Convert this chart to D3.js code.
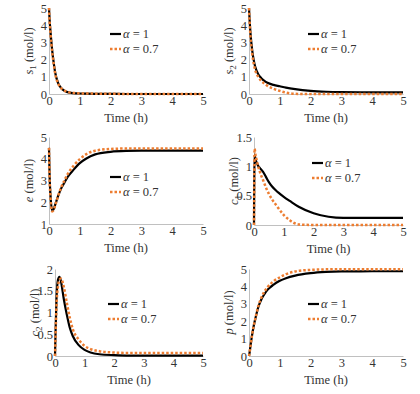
<!DOCTYPE html>
<html>
<head>
<meta charset="utf-8">
<script src="https://cdn.jsdelivr.net/npm/d3@7"></script>
<style>
  body { margin: 0; background: #fff; }
</style>
</head>
<body>
<svg id="chart" width="420" height="394"></svg>
<script>
// time points (h)
var time = [0, 0.02, 0.05, 0.1, 0.15, 0.2, 0.3, 0.4, 0.5, 0.6, 0.8, 1, 1.2, 1.5, 2, 2.5, 3, 4, 5];
var xTicks = [0, 1, 2, 3, 4, 5];
var legendLabels = ['1', '0.7'];

// s1
var s1A1  = [5, 4.3, 3.6, 2.6, 1.85, 1.25, 0.62, 0.33, 0.19, 0.11, 0.05, 0.03, 0.02, 0.01, 0.005, 0, 0, 0, 0];
var s1A07 = [5, 4.2, 3.5, 2.5, 1.8, 1.2, 0.6, 0.33, 0.2, 0.12, 0.06, 0.04, 0.03, 0.02, 0.01, 0.005, 0, 0, 0];
// s2
var s2A1  = [5, 4.3, 3.5, 2.6, 2.0, 1.6, 1.15, 0.92, 0.76, 0.65, 0.53, 0.45, 0.37, 0.28, 0.18, 0.13, 0.11, 0.1, 0.1];
var s2A07 = [5, 4.2, 3.3, 2.4, 1.8, 1.4, 1.0, 0.76, 0.6, 0.47, 0.3, 0.18, 0.08, 0.01, 0, 0, 0, 0, 0];
// e
var eA1   = [4.5, 3.2, 2.3, 1.62, 1.68, 1.88, 2.3, 2.65, 2.9, 3.15, 3.5, 3.8, 4.0, 4.2, 4.32, 4.36, 4.37, 4.37, 4.37];
var eA07  = [4.5, 3.1, 2.2, 1.58, 1.64, 1.85, 2.3, 2.7, 3.0, 3.28, 3.68, 3.98, 4.2, 4.37, 4.45, 4.47, 4.47, 4.47, 4.47];
// c1
var c1A1  = [0, 1.2, 1.12, 1.05, 1.0, 0.97, 0.91, 0.82, 0.73, 0.66, 0.56, 0.48, 0.41, 0.31, 0.2, 0.14, 0.12, 0.12, 0.12];
var c1A07 = [0, 1.3, 1.2, 1.08, 0.98, 0.9, 0.77, 0.64, 0.53, 0.44, 0.3, 0.17, 0.08, 0.01, 0, 0, 0, 0, 0];
// c2
var c2A1  = [0, 0.6, 1.3, 1.75, 1.82, 1.72, 1.3, 0.95, 0.65, 0.46, 0.25, 0.14, 0.08, 0.04, 0.02, 0.01, 0.01, 0.01, 0.01];
var c2A07 = [0, 0.5, 1.15, 1.6, 1.75, 1.78, 1.58, 1.22, 0.88, 0.62, 0.38, 0.23, 0.16, 0.11, 0.08, 0.07, 0.07, 0.07, 0.07];
// p
var pA1   = [0, 0.2, 0.6, 1.2, 1.7, 2.1, 2.8, 3.25, 3.55, 3.8, 4.1, 4.32, 4.47, 4.62, 4.76, 4.83, 4.86, 4.87, 4.87];
var pA07  = [0, 0.2, 0.6, 1.2, 1.7, 2.1, 2.85, 3.35, 3.7, 3.95, 4.3, 4.52, 4.7, 4.86, 4.95, 4.98, 4.99, 4.99, 4.99];

var panels = [
  {sym: 's', sub: '1', y1: s1A1, y07: s1A07, domain: [0, 5], ticks: [0, 1, 2, 3, 4, 5],
   box: {l: 49, r: 203, t: 8, b: 94}, leg: {x: 110, y: 34}},
  {sym: 's', sub: '2', y1: s2A1, y07: s2A07, domain: [0, 5], ticks: [0, 1, 2, 3, 4, 5],
   box: {l: 249, r: 403, t: 8, b: 94}, leg: {x: 308, y: 34}},
  {sym: 'e', sub: '', y1: eA1, y07: eA07, domain: [1, 5], ticks: [1, 2, 3, 4, 5],
   box: {l: 49, r: 203, t: 137, b: 224}, leg: {x: 110, y: 177}},
  {sym: 'c', sub: '1', y1: c1A1, y07: c1A07, domain: [0, 1.5], ticks: [0, 0.5, 1, 1.5],
   box: {l: 254, r: 403, t: 137, b: 225}, leg: {x: 312, y: 163}},
  {sym: 'c', sub: '2', y1: c2A1, y07: c2A07, domain: [0, 2], ticks: [0, 0.5, 1, 1.5, 2],
   box: {l: 55, r: 203, t: 269, b: 356}, leg: {x: 108, y: 304}},
  {sym: 'p', sub: '', y1: pA1, y07: pA07, domain: [0, 5], ticks: [0, 1, 2, 3, 4, 5],
   box: {l: 249, r: 403, t: 269, b: 356}, leg: {x: 308, y: 304}}
];

var orange = '#ed7d31';
var ink = '#333';
var font = 'Liberation Serif';
var fs = 12.5;
var svg = d3.select('#chart');

panels.forEach(function(p) {
  var x = d3.scaleLinear().domain([0, 5]).range([p.box.l, p.box.r]);
  var y = d3.scaleLinear().domain(p.domain).range([p.box.b, p.box.t]);
  var g = svg.append('g');

  // axes
  var gx = g.append('g')
    .attr('transform', 'translate(0,' + p.box.b + ')')
    .call(d3.axisBottom(x).tickValues(xTicks).tickSize(0).tickPadding(2).tickFormat(d3.format('d')));
  var gy = g.append('g')
    .attr('transform', 'translate(' + p.box.l + ',0)')
    .call(d3.axisLeft(y).tickValues(p.ticks).tickSize(0).tickPadding(2).tickFormat(function(d) { return String(d); }));
  [gx, gy].forEach(function(a) {
    a.attr('font-size', fs);
    a.select('.domain').attr('stroke', '#c0c0c0');
  });

  // axis titles
  g.append('text')
    .attr('x', (p.box.l + p.box.r) / 2)
    .attr('y', p.box.b + 28)
    .attr('text-anchor', 'middle')
    .attr('font-size', fs)
    .text('Time (h)');

  var yl = g.append('text')
    .attr('transform', 'translate(' + (p.box.l - 20) + ',' + ((p.box.t + p.box.b) / 2) + ') rotate(-90)')
    .attr('text-anchor', 'middle')
    .attr('dy', '0.35em')
    .attr('font-size', fs);
  yl.append('tspan').attr('font-style', 'italic').text(p.sym);
  if (p.sub) {
    yl.append('tspan').attr('font-size', 9).attr('dy', 3).text(p.sub);
    yl.append('tspan').attr('dy', -3).text(' (mol/l)');
  } else {
    yl.append('tspan').text(' (mol/l)');
  }

  // lines
  var line = function(vals) {
    return d3.line()
      .curve(d3.curveMonotoneX)
      .x(function(d, i) { return x(time[i]); })
      .y(function(d) { return y(d); })(vals);
  };
  g.append('path')
    .attr('d', line(p.y1))
    .attr('fill', 'none')
    .attr('stroke', '#000')
    .attr('stroke-width', 2.2);
  g.append('path')
    .attr('d', line(p.y07))
    .attr('fill', 'none')
    .attr('stroke', orange)
    .attr('stroke-width', 2.5)
    .attr('stroke-dasharray', '2.5,2');

  // legend
  var colors = ['#000', orange];
  legendLabels.forEach(function(lab, i) {
    var ly = p.leg.y + i * 15;
    g.append('line')
      .attr('x1', p.leg.x).attr('x2', p.leg.x + 11)
      .attr('y1', ly).attr('y2', ly)
      .attr('stroke', colors[i])
      .attr('stroke-width', i ? 2.5 : 2.2)
      .attr('stroke-dasharray', i ? '2.5,2' : null);
    var t = g.append('text')
      .attr('x', p.leg.x + 13)
      .attr('y', ly)
      .attr('dy', '0.35em')
      .attr('font-size', fs);
    t.append('tspan').attr('font-style', 'italic').text('\u03b1');
    t.append('tspan').text(' = ' + lab);
  });
});

// one font and colour for every label
svg.selectAll('text').attr('font-family', font).attr('fill', ink);
</script>
</body>
</html>
